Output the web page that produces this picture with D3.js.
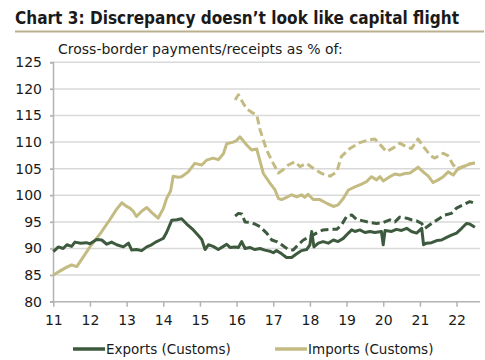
<!DOCTYPE html>
<html>
<head>
<meta charset="utf-8">
<script src="https://cdn.jsdelivr.net/npm/d3@7"></script>
<style>
  html, body { margin: 0; padding: 0; background: #ffffff; }
  svg { display: block; }
</style>
</head>
<body>
<svg id="chart" width="485" height="360"></svg>
<script>
// ---------- DATA (decimal year, % value) ----------
const titleText = "Chart 3: Discrepancy doesn\u2019t look like capital flight";
const subtitleText = "Cross-border payments/receipts as % of:";
const xTickValues = [11, 12, 13, 14, 15, 16, 17, 18, 19, 20, 21, 22];
const xTickLabels = ["11", "12", "13", "14", "15", "16", "17", "18", "19", "20", "21", "22"];
const yTickValues = [80, 85, 90, 95, 100, 105, 110, 115, 120, 125];
const legendLabels = ["Exports (Customs)", "Imports (Customs)"];

const importsCustoms = [
  [11.00, 85.0], [11.14, 85.6], [11.37, 86.5], [11.50, 86.9], [11.64, 86.6],
  [12.00, 90.3], [12.30, 93.0], [12.55, 95.5], [12.72, 97.3], [12.87, 98.6],
  [13.00, 97.9], [13.09, 97.6], [13.18, 97.0], [13.27, 96.0], [13.41, 97.0],
  [13.55, 97.7], [13.68, 96.8], [13.86, 95.7], [14.00, 97.5], [14.09, 99.4],
  [14.20, 100.8], [14.27, 103.6], [14.40, 103.4], [14.50, 103.5], [14.68, 104.4],
  [14.86, 106.0], [15.05, 105.7], [15.18, 106.6], [15.36, 107.0], [15.50, 106.7],
  [15.64, 107.8], [15.73, 109.7], [15.91, 110.0], [16.00, 110.3], [16.09, 111.0],
  [16.27, 109.5], [16.41, 108.5], [16.55, 108.7], [16.73, 104.1], [16.91, 102.3],
  [17.05, 101.0], [17.14, 99.4], [17.23, 99.2], [17.36, 99.6], [17.50, 100.1],
  [17.64, 99.7], [17.77, 100.1], [17.86, 99.6], [17.95, 100.2], [18.09, 99.2],
  [18.27, 99.2], [18.46, 98.5], [18.64, 97.9], [18.77, 98.2], [18.91, 99.4],
  [19.05, 101.0], [19.23, 101.6], [19.41, 102.1], [19.55, 102.6], [19.68, 103.5],
  [19.82, 102.9], [19.91, 103.5], [20.00, 102.7], [20.18, 103.5], [20.32, 104.0],
  [20.45, 103.8], [20.59, 104.1], [20.73, 104.2], [20.86, 104.8], [20.95, 105.3],
  [21.09, 104.4], [21.23, 103.6], [21.36, 102.4], [21.50, 102.9], [21.64, 103.5],
  [21.77, 104.4], [21.91, 103.8], [22.05, 105.1], [22.23, 105.5], [22.36, 105.9],
  [22.50, 106.1]
];

const importsAlt = [
  [15.96, 117.9], [16.05, 118.9], [16.18, 117.3], [16.27, 116.3], [16.41, 115.6],
  [16.55, 115.1], [16.64, 112.3], [16.82, 108.5], [17.00, 106.0], [17.14, 104.2],
  [17.27, 104.8], [17.41, 105.7], [17.59, 106.3], [17.73, 105.4], [17.91, 106.0],
  [18.09, 105.1], [18.32, 104.1], [18.55, 103.6], [18.73, 104.4], [18.86, 107.3],
  [19.09, 108.8], [19.36, 109.9], [19.59, 110.4], [19.77, 110.6], [19.96, 109.2],
  [20.09, 108.2], [20.32, 109.1], [20.45, 109.8], [20.64, 109.1], [20.77, 108.8],
  [20.95, 110.6], [21.09, 109.2], [21.30, 107.4], [21.41, 107.0], [21.64, 107.9],
  [21.77, 107.4], [21.91, 105.7], [22.05, 104.9], [22.18, 105.4], [22.36, 105.9],
  [22.50, 106.1]
];

const exportsCustoms = [
  [11.00, 89.4], [11.14, 90.3], [11.27, 90.0], [11.37, 90.7], [11.50, 90.4],
  [11.59, 91.2], [11.75, 91.0], [11.90, 91.1], [12.00, 90.9], [12.18, 91.7],
  [12.32, 91.6], [12.46, 90.8], [12.59, 91.2], [12.73, 90.7], [12.91, 90.3],
  [13.05, 91.0], [13.14, 89.7], [13.27, 89.8], [13.41, 89.6], [13.55, 90.3],
  [13.68, 90.7], [13.82, 91.3], [13.91, 91.6], [14.00, 91.9], [14.09, 93.0],
  [14.23, 95.3], [14.37, 95.4], [14.50, 95.6], [14.64, 94.6], [14.82, 93.5],
  [14.95, 92.5], [15.05, 91.7], [15.14, 89.8], [15.23, 90.7], [15.36, 90.4],
  [15.50, 89.8], [15.64, 90.4], [15.73, 90.8], [15.82, 90.2], [15.96, 90.3],
  [16.05, 90.2], [16.14, 91.3], [16.23, 90.0], [16.36, 90.2], [16.50, 89.8],
  [16.64, 90.0], [16.77, 89.7], [16.91, 89.5], [17.00, 89.2], [17.09, 89.6],
  [17.23, 89.0], [17.36, 88.3], [17.50, 88.3], [17.64, 89.0], [17.77, 89.6],
  [17.91, 89.8], [18.00, 90.7], [18.05, 93.2], [18.11, 90.3], [18.23, 91.0],
  [18.36, 91.3], [18.50, 91.0], [18.64, 91.6], [18.77, 91.3], [18.91, 91.9],
  [19.05, 92.9], [19.14, 93.5], [19.23, 93.2], [19.36, 93.5], [19.50, 93.0],
  [19.64, 93.2], [19.77, 93.0], [19.95, 93.2], [20.00, 90.7], [20.05, 93.4],
  [20.23, 93.2], [20.36, 93.6], [20.50, 93.4], [20.64, 93.8], [20.77, 93.2],
  [20.91, 92.9], [21.05, 93.8], [21.10, 90.7], [21.18, 91.0], [21.32, 91.1],
  [21.46, 91.5], [21.59, 91.6], [21.73, 92.1], [21.86, 92.5], [22.00, 92.9],
  [22.14, 93.8], [22.27, 94.7], [22.36, 94.6], [22.50, 94.0]
];

const exportsAlt = [
  [15.96, 96.1], [16.05, 96.6], [16.14, 96.5], [16.23, 95.0], [16.36, 94.9],
  [16.50, 94.6], [16.64, 94.1], [16.82, 92.9], [16.96, 91.6], [17.09, 91.3],
  [17.23, 90.7], [17.41, 89.8], [17.54, 89.7], [17.68, 90.7], [17.82, 91.6],
  [18.00, 92.2], [18.18, 92.9], [18.36, 93.5], [18.55, 93.6], [18.73, 93.6],
  [18.86, 94.4], [19.00, 96.0], [19.14, 96.3], [19.27, 95.5], [19.45, 95.2],
  [19.64, 94.9], [19.82, 94.7], [20.00, 94.9], [20.18, 95.4], [20.32, 95.0],
  [20.45, 95.9], [20.64, 95.7], [20.77, 95.4], [20.91, 95.2], [21.05, 94.7],
  [21.14, 93.8], [21.32, 94.7], [21.50, 95.5], [21.68, 96.3], [21.86, 96.6],
  [22.00, 97.6], [22.18, 98.2], [22.36, 98.8], [22.50, 98.5]
];

// ---------- STYLE / LAYOUT ----------
const colExports = "#3e5a3e";
const colImports = "#c4bb83";
const colGrid = "#d9d9d9";
const colAxis = "#b3b3b3";
const colText = "#1a1a1a";
const fontMain = "'DejaVu Sans', Verdana, sans-serif";

const svg = d3.select("#chart");

const x = d3.scaleLinear().domain([11, 22.64]).range([53.3, 480]);
const y = d3.scaleLinear().domain([80, 125]).range([301.7, 62.3]);

// Title
const title = svg.append("text")
  .attr("x", 15).attr("y", 24)
  .attr("font-family", "'DejaVu Sans Condensed', 'DejaVu Sans', sans-serif")
  .attr("font-weight", "bold")
  .attr("font-size", 18)
  .attr("fill", colText)
  .text(titleText);
const tw = title.node().getComputedTextLength();
if (Math.abs(tw - 444) > 4) {
  title.attr("textLength", 444).attr("lengthAdjust", "spacingAndGlyphs");
}

// Rule under title
svg.append("line")
  .attr("x1", 15).attr("x2", 484)
  .attr("y1", 31.5).attr("y2", 31.5)
  .attr("stroke", "#b9b08f").attr("stroke-width", 2);

// Subtitle
const sub = svg.append("text")
  .attr("x", 58).attr("y", 54)
  .attr("font-family", fontMain)
  .attr("font-size", 14)
  .attr("fill", colText)
  .text(subtitleText);
const sw = sub.node().getComputedTextLength();
if (Math.abs(sw - 285) > 4) {
  sub.attr("textLength", 285).attr("lengthAdjust", "spacingAndGlyphs");
}

// Gridlines
svg.append("g").selectAll("line")
  .data(yTickValues.filter(v => v > 80))
  .join("line")
  .attr("x1", 50).attr("x2", 480)
  .attr("y1", d => y(d)).attr("y2", d => y(d))
  .attr("stroke", colGrid).attr("stroke-width", 1.5);

// Y axis
const yAxis = d3.axisLeft(y).tickValues(yTickValues).tickSize(3).tickPadding(8);
const gy = svg.append("g").attr("transform", "translate(53,0)").call(yAxis);
gy.select(".domain").attr("stroke", colAxis).attr("stroke-width", 1.5);
gy.selectAll(".tick line").attr("stroke", colAxis).attr("stroke-width", 1.5);
gy.selectAll(".tick text")
  .attr("font-family", fontMain).attr("font-size", 14).attr("fill", colText);

// X axis
const xAxis = d3.axisBottom(x).tickValues(xTickValues)
  .tickFormat((d, i) => xTickLabels[i]).tickSize(5).tickPadding(8).tickSizeOuter(0);
const gx = svg.append("g").attr("transform", `translate(0,${y(80)})`).call(xAxis);
gx.select(".domain").attr("stroke", colAxis).attr("stroke-width", 1.5)
  .attr("d", `M50,0H480`);
gx.selectAll(".tick line").attr("stroke", colAxis).attr("stroke-width", 1.5);
gx.selectAll(".tick text")
  .attr("font-family", fontMain).attr("font-size", 14).attr("fill", colText);

// Lines
const line = d3.line().x(d => x(d[0])).y(d => y(d[1])).curve(d3.curveLinear);

const seriesDefs = [
  { data: importsAlt, color: colImports, dash: "8,4" },
  { data: importsCustoms, color: colImports, dash: null },
  { data: exportsAlt, color: colExports, dash: "8,4" },
  { data: exportsCustoms, color: colExports, dash: null }
];

svg.append("g").selectAll("path")
  .data(seriesDefs)
  .join("path")
  .attr("d", d => line(d.data))
  .attr("fill", "none")
  .attr("stroke", d => d.color)
  .attr("stroke-width", 3)
  .attr("stroke-linejoin", "round")
  .attr("stroke-dasharray", d => d.dash);

// Legend
const legendItems = [
  { label: legendLabels[0], color: colExports, x: 73 },
  { label: legendLabels[1], color: colImports, x: 275 }
];
const lg = svg.append("g");
legendItems.forEach(it => {
  lg.append("line")
    .attr("x1", it.x).attr("x2", it.x + 32)
    .attr("y1", 349).attr("y2", 349)
    .attr("stroke", it.color).attr("stroke-width", 3.5);
  lg.append("text")
    .attr("x", it.x + 33).attr("y", 354)
    .attr("font-family", fontMain).attr("font-size", 13.5)
    .attr("fill", colText)
    .text(it.label);
});
</script>
</body>
</html>
